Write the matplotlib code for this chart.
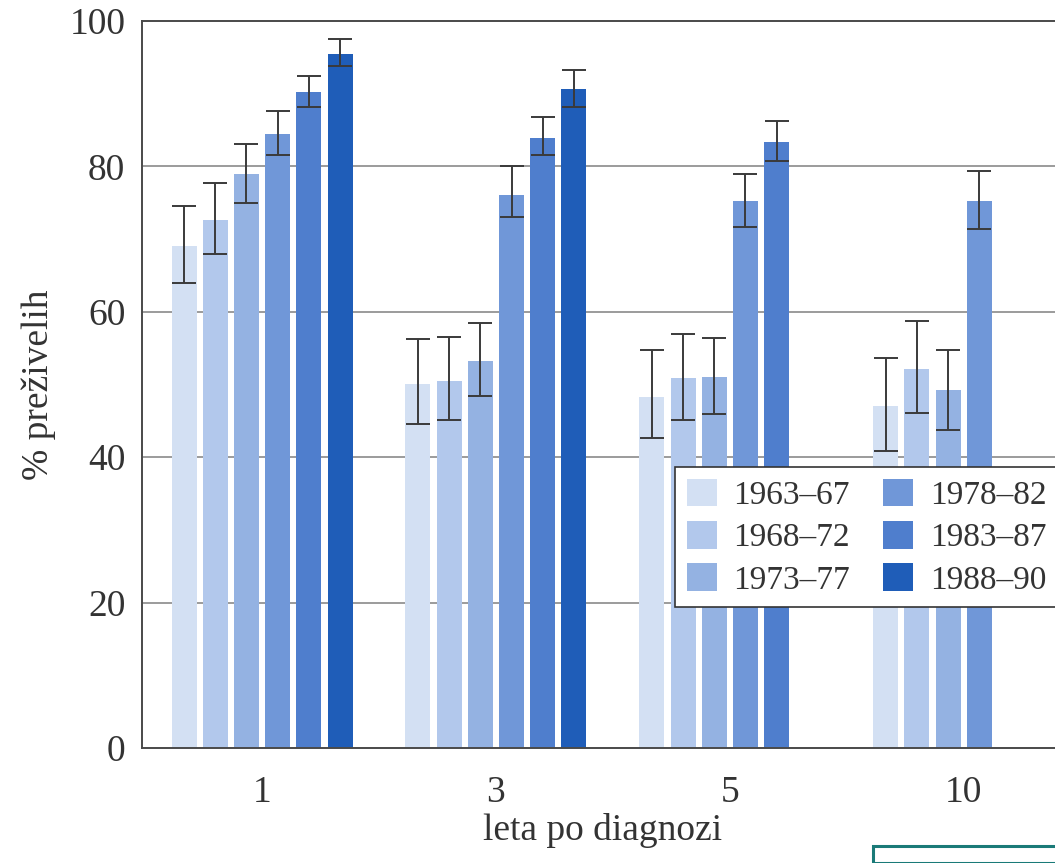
import matplotlib
matplotlib.use("Agg")
import matplotlib.pyplot as plt
from matplotlib.patches import Rectangle
import numpy as np

# ---- data ----
groups = ["1", "3", "5", "10"]
periods = ["1963–67", "1968–72", "1973–77", "1978–82", "1983–87", "1988–90"]
colors = ["#d3e0f3", "#b2c8ec", "#94b2e2", "#7097d8", "#4f7ecd", "#1f5db8"]

# survival % per period (rows) for groups 1, 3, 5, 10 (None = no data)
surv_6367 = [69.0, 50.1, 48.3, 47.1]
surv_6872 = [72.6, 50.5, 50.9, 52.2]
surv_7377 = [78.9, 53.2, 51.0, 49.3]
surv_7882 = [84.4, 76.1, 75.2, 75.3]
surv_8387 = [90.2, 83.9, 83.3, None]
surv_8890 = [95.5, 90.6, None, None]

ci_low_6367 = [64.0, 44.5, 42.6, 40.9]
ci_low_6872 = [68.0, 45.1, 45.1, 46.1]
ci_low_7377 = [75.0, 48.4, 45.9, 43.8]
ci_low_7882 = [81.5, 73.0, 71.7, 71.4]
ci_low_8387 = [88.2, 81.6, 80.8, None]
ci_low_8890 = [93.8, 88.2, None, None]

ci_high_6367 = [74.6, 56.2, 54.7, 53.7]
ci_high_6872 = [77.7, 56.5, 56.9, 58.8]
ci_high_7377 = [83.1, 58.5, 56.4, 54.8]
ci_high_7882 = [87.6, 80.1, 79.0, 79.3]
ci_high_8387 = [92.4, 86.8, 86.2, None]
ci_high_8890 = [97.5, 93.3, None, None]

series = [surv_6367, surv_6872, surv_7377, surv_7882, surv_8387, surv_8890]
lows = [ci_low_6367, ci_low_6872, ci_low_7377, ci_low_7882, ci_low_8387, ci_low_8890]
highs = [ci_high_6367, ci_high_6872, ci_high_7377, ci_high_7882, ci_high_8387, ci_high_8890]

# ---- figure ----
W, H = 1055, 863
fig = plt.figure(figsize=(W / 100, H / 100), dpi=100)
plt.rcParams["font.family"] = ["Liberation Serif", "DejaVu Serif"]

left_px, right_px, top_px, bottom_px = 142, 1055, 21, 748
ax = fig.add_axes([left_px / W, 1 - bottom_px / H,
                   (right_px - left_px) / W, (bottom_px - top_px) / H])

grp_spacing = 233.9  # px
x0_px = 262
ax.set_xlim((left_px - x0_px) / grp_spacing, (right_px - x0_px) / grp_spacing)
ax.set_ylim(0, 100)

slot = 31.2 / grp_spacing
bw = 25.0 / grp_spacing
xg = np.arange(len(groups))

for j, (vals, lo, hi) in enumerate(zip(series, lows, highs)):
    for i, v in enumerate(vals):
        if v is None:
            continue
        x = xg[i] + (j - 2.5) * slot
        ax.bar(x, v, width=bw, color=colors[j], zorder=2,
               label=periods[j] if i == 0 else None)
        ax.errorbar(x, v, yerr=[[v - lo[i]], [hi[i] - v]], fmt="none",
                    ecolor="#3a3a3a", elinewidth=1.4, capsize=8.5,
                    capthick=1.4, zorder=3)

for yv in [20, 40, 60, 80]:
    ax.axhline(yv, color="#8a8a8a", lw=1.2, zorder=1)

ax.spines["right"].set_visible(False)
for s in ["left", "bottom", "top"]:
    ax.spines[s].set_color("#4a4a4a")
    ax.spines[s].set_linewidth(1.4)

ax.set_yticks([0, 20, 40, 60, 80, 100])
ax.set_xticks(xg)
ax.set_xticklabels(groups)
ax.tick_params(axis="both", length=0, labelsize=27, colors="#333333")
ax.tick_params(axis="y", pad=12)
ax.tick_params(axis="x", pad=20)

ax.set_xlabel("leta po diagnozi", fontsize=27, color="#333333", labelpad=0)
ax.xaxis.set_label_coords((603 - left_px) / (right_px - left_px),
                          -(813 - bottom_px) / (bottom_px - top_px))
ax.set_ylabel("% preživelih", fontsize=27, color="#333333")
ax.yaxis.set_label_coords(-(left_px - 56) / (right_px - left_px), 0.50)

handles, labels = ax.get_legend_handles_labels()
leg = fig.legend(handles, labels, ncol=2, loc="upper left",
                 bbox_to_anchor=(675 / W, 1 - 467 / H),
                 fontsize=24, frameon=True, fancybox=False,
                 edgecolor="#333333", framealpha=1,
                 handlelength=0.9, handleheight=0.9, handletextpad=0.5,
                 columnspacing=1.0, labelspacing=0.3, borderpad=0.35,
                 borderaxespad=0)
leg.get_frame().set_linewidth(1.2)
for t in leg.get_texts():
    t.set_color("#333333")

# teal box fragment at bottom right
fig.patches.append(Rectangle((873 / W, 0), (W - 873) / W + 0.01, (H - 846) / H,
                             transform=fig.transFigure, fill=False,
                             edgecolor="#1a7a78", linewidth=2.2))

fig.savefig("out.png", dpi=100)
